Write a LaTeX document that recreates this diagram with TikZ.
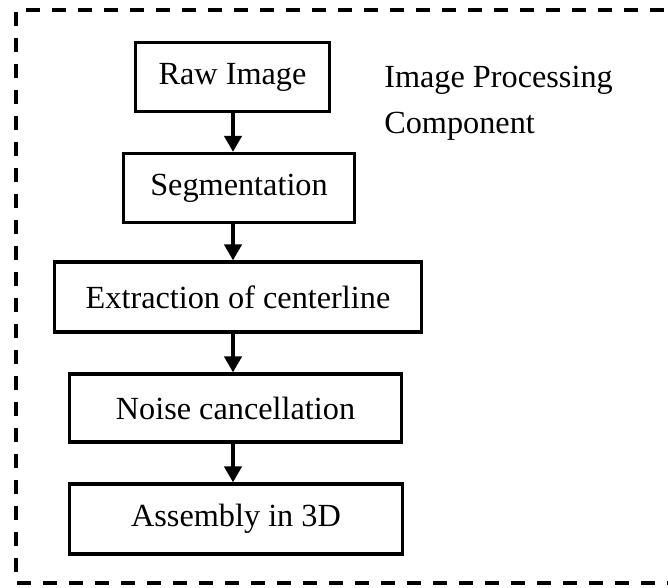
\documentclass[tikz,border=0pt]{standalone}
\usepackage{fontspec}
\setmainfont{Liberation Serif}
\usetikzlibrary{arrows.meta}
\begin{document}
\begin{tikzpicture}[x=0.75pt,y=-0.75pt,
  stepbox/.style={draw,line width=2.5pt,rectangle,inner sep=0pt,
    font=\fontsize{24.2}{28}\selectfont},
  flow/.style={line width=2.6pt,-{Triangle[width=13pt,length=12pt]}},
  frame/.style={line width=2.6pt,dash pattern=on 10.5pt off 9pt},
  note/.style={anchor=base west,inner sep=0pt,font=\fontsize{24.2}{28}\selectfont}]
  \useasboundingbox (0,0) rectangle (668,588);

  % outer dashed frame (runs past the right edge of the page)
  \draw[frame] (690,10) -- (16,10) -- (16,583) -- (690,583);

  % processing steps
  \node[stepbox,minimum width=145.5pt,minimum height=51.75pt] (raw) at (232.5,77) {Raw Image};
  \node[stepbox,minimum width=173.25pt,minimum height=51.75pt] (seg) at (239,188) {Segmentation};
  \node[stepbox,minimum width=275.25pt,minimum height=52.5pt] (ext) at (238,297) {Extraction of centerline};
  \node[stepbox,minimum width=249pt,minimum height=51pt] (noise) at (235.5,408) {Noise cancellation};
  \node[stepbox,minimum width=249.75pt,minimum height=52.5pt] (asm) at (236,519) {Assembly in 3D};

  % component label
  \node[note] (lbl1) at (384,88) {Image Processing};
  \node[note] (lbl2) at (384,134) {Component};

  % connectors
  \coordinate (ax) at (233,0);
  \draw[flow] (raw.south -| ax) -- (seg.north -| ax);
  \draw[flow] (seg.south -| ax) -- (ext.north -| ax);
  \draw[flow] (ext.south -| ax) -- (noise.north -| ax);
  \draw[flow] (noise.south -| ax) -- (asm.north -| ax);
\end{tikzpicture}
\end{document}
